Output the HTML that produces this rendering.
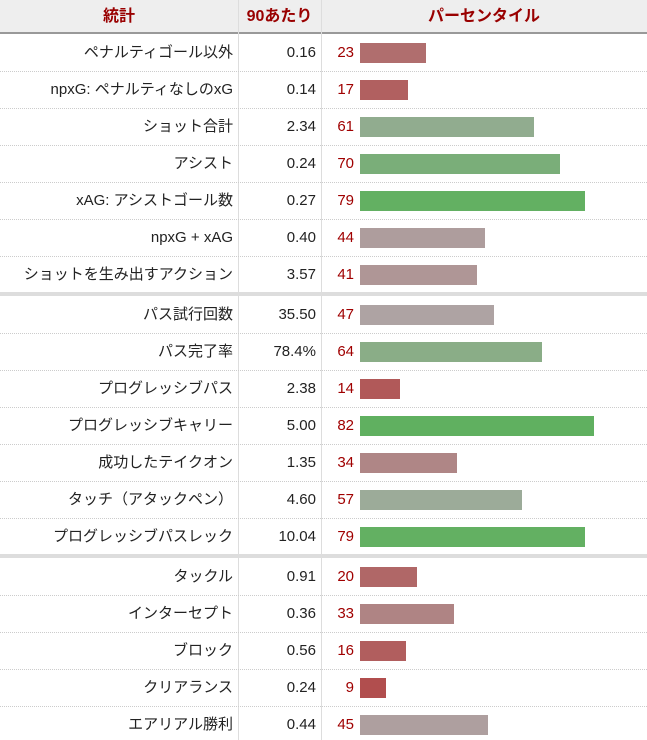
<!DOCTYPE html>
<html><head><meta charset="utf-8"><style>
body{margin:0;width:647px;height:740px;overflow:hidden;background:#fff;font-family:"Liberation Sans","Noto Sans CJK JP",sans-serif;font-size:15px;color:#222;position:relative}
.a{position:absolute}
.hdr{left:0;top:0;width:647px;height:34px;background:#eee;border-bottom:2px solid #999;box-sizing:border-box}
.ht{color:#990000;font-weight:bold;font-size:16px;line-height:34px;text-align:center;top:0}
.lab{right:414px;text-align:right;white-space:nowrap}
.val{right:331px;text-align:right}
.num{left:324px;width:30px;text-align:right;color:#a00000}
.bar{left:360px;height:20px}
.rowline{left:0;width:647px;border-top:1px dotted #ccc}
.sep{left:0;width:647px;height:4px;background:#ddd}
.vl{top:0;width:1px;height:740px;background:#ddd}
</style></head><body>
<div class="a hdr"></div>
<div class="a ht" style="left:0;width:238px">統計</div>
<div class="a ht" style="left:238px;width:83px">90あたり</div>
<div class="a ht" style="left:321px;width:326px">パーセンタイル</div>
<div class="a vl" style="left:238px"></div>
<div class="a vl" style="left:321px"></div>
<div id="rows"></div>
<script>
const labels=["ペナルティゴール以外","npxG: ペナルティなしのxG","ショット合計","アシスト","xAG: アシストゴール数","npxG + xAG","ショットを生み出すアクション","パス試行回数","パス完了率","プログレッシブパス","プログレッシブキャリー","成功したテイクオン","タッチ（アタックペン）","プログレッシブパスレック","タックル","インターセプト","ブロック","クリアランス","エアリアル勝利"];
const values=["0.16","0.14","2.34","0.24","0.27","0.40","3.57","35.50","78.4%","2.38","5.00","1.35","4.60","10.04","0.91","0.36","0.56","0.24","0.44"];
const percentiles=[23,17,61,70,79,44,41,47,64,14,82,34,57,79,20,33,16,9,45];
const groups=[7,7,5];
function col(p){
  const A=[[0,[178,58,58]],[50,[174,170,170]],[80,[96,176,96]],[100,[96,176,96]]];
  for(let i=0;i<A.length-1;i++){const[a,c1]=A[i],[b,c2]=A[i+1];
    if(p<=b){const t=(p-a)/(b-a);return 'rgb('+c1.map((v,k)=>Math.round(v+(c2[k]-v)*t)).join(',')+')';}}
  return 'rgb(96,176,96)';
}
const root=document.getElementById('rows');
let y=34,idx=0;
groups.forEach((n,g)=>{
  if(g>0){const s=document.createElement('div');s.className='a sep';s.style.top=(y-1)+'px';
    
    
    root.appendChild(s);y+=3;}
  for(let r=0;r<n;r++){
    const i=idx++;const cy=y+18.5;
    if(r>0){const l=document.createElement('div');l.className='a rowline';l.style.top=y+'px';
      
      
      root.appendChild(l);}
    const mk=(cls,txt,name)=>{const e=document.createElement('div');e.className='a '+cls;e.textContent=txt;e.style.top=(cy-10)+'px';e.style.lineHeight='20px';
      
      
      root.appendChild(e);return e;};
    mk('lab',labels[i],'stat-label');
    mk('val',values[i],'per90-value');
    mk('num',percentiles[i],'percentile-value');
    const b=document.createElement('div');b.className='a bar';b.style.top=(cy-10)+'px';
    b.style.width=(percentiles[i]*2.85)+'px';b.style.background=col(percentiles[i]);
    
    
    root.appendChild(b);
    y+=37;
  }
});
</script>
</body></html>
